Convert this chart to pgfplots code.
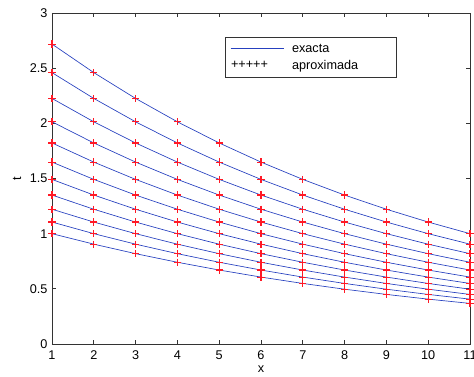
\documentclass[border=0pt]{standalone}
\usepackage{pgfplots}
\usepackage{pgfplotstable}
\pgfplotsset{compat=1.18}
\usepackage{fontspec}
\setmainfont{Liberation Sans}
\definecolor{mblue}{rgb}{0.15,0.25,0.75}
\definecolor{mred}{rgb}{1,0.1,0.15}
\pgfplotstableread{
x c0 c1 c2 c3 c4 c5 c6 c7 c8 c9 c10
1 1.0000 1.1052 1.2214 1.3499 1.4918 1.6487 1.8221 2.0138 2.2255 2.4596 2.7183
2 0.9048 1.0000 1.1052 1.2214 1.3499 1.4918 1.6487 1.8221 2.0138 2.2255 2.4596
3 0.8187 0.9048 1.0000 1.1052 1.2214 1.3499 1.4918 1.6487 1.8221 2.0138 2.2255
4 0.7408 0.8187 0.9048 1.0000 1.1052 1.2214 1.3499 1.4918 1.6487 1.8221 2.0138
5 0.6703 0.7408 0.8187 0.9048 1.0000 1.1052 1.2214 1.3499 1.4918 1.6487 1.8221
6 0.6065 0.6703 0.7408 0.8187 0.9048 1.0000 1.1052 1.2214 1.3499 1.4918 1.6487
7 0.5488 0.6065 0.6703 0.7408 0.8187 0.9048 1.0000 1.1052 1.2214 1.3499 1.4918
8 0.4966 0.5488 0.6065 0.6703 0.7408 0.8187 0.9048 1.0000 1.1052 1.2214 1.3499
9 0.4493 0.4966 0.5488 0.6065 0.6703 0.7408 0.8187 0.9048 1.0000 1.1052 1.2214
10 0.4066 0.4493 0.4966 0.5488 0.6065 0.6703 0.7408 0.8187 0.9048 1.0000 1.1052
11 0.3679 0.4066 0.4493 0.4966 0.5488 0.6065 0.6703 0.7408 0.8187 0.9048 1.0000
}\data
\begin{document}
\fontsize{9.5}{11}\selectfont
\begin{tikzpicture}
\begin{axis}[
  scale only axis,
  width=313.5pt, height=248.25pt,
  xmin=1, xmax=11, ymin=0, ymax=3,
  xtick={1,2,...,11}, ytick={0,0.5,...,3},
  tick align=inside,
  major tick length=3pt,
  axis line style={black!80, line width=0.6pt},
  tick style={black!80, line width=0.5pt},
  /pgf/number format/assume math mode=true,
  ticklabel style={font=\fontsize{9.5}{11}\selectfont},
  xticklabel style={yshift=-1.5pt},
  xlabel={x}, ylabel={t},
  label style={font=\fontsize{9.5}{11}\selectfont},
  xlabel style={yshift=2pt},
  ylabel style={yshift=0pt},
  clip=false,
  legend style={at={(0.413,0.926)}, anchor=north west, draw=black!80,
    line width=0.5pt, inner xsep=4pt, inner ysep=2.5pt,
    font=\fontsize{9.5}{11}\selectfont, row sep=0.8pt},
  legend cell align=left,
]
\addplot[mblue, line width=0.5pt, legend image code/.code={\draw[mblue, line width=0.6pt] (0pt,0pt) -- (40pt,0pt); \path[draw=none] (0pt,0pt) -- (44pt,0pt);}] table[x=x, y=c0] {\data};
\addlegendentry{\makebox[72pt][l]{exacta}}
\pgfplotsinvokeforeach{1,...,10}{
  \addplot[mblue, line width=0.5pt, forget plot] table[x=x, y=c#1] {\data};
}
\addplot[only marks, mark=+, mark size=2.7pt, mred, mark options={solid, draw=mred, line width=0.85pt},
  legend image code/.code={\node[anchor=west, inner sep=0pt, text=black] at (0pt,0pt) {+++++}; \path[draw=none] (0pt,0pt) -- (44pt,0pt);}] table[x=x, y=c0] {\data};
\addlegendentry{\makebox[72pt][l]{aproximada}}
\pgfplotsinvokeforeach{1,...,10}{
  \addplot[only marks, mark=+, mark size=2.7pt, mred, mark options={solid, draw=mred, line width=0.85pt}, forget plot] table[x=x, y=c#1] {\data};
}
\end{axis}
\pgfresetboundingbox
\useasboundingbox ([xshift=-39pt, yshift=-24.75pt] current axis.south west) rectangle ([xshift=3pt, yshift=9.75pt] current axis.north east);
\end{tikzpicture}
\end{document}
